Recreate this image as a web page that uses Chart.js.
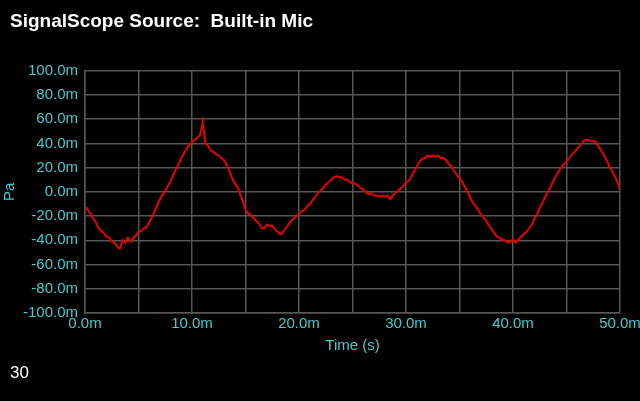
<!DOCTYPE html>
<html>
<head>
<meta charset="utf-8">
<script src="https://cdn.jsdelivr.net/npm/chart.js@4/dist/chart.umd.min.js"></script>
<style>
  html, body { margin: 0; padding: 0; background: #000; }
  #wrap { position: relative; width: 640px; height: 401px; }
  #pageNum { position: absolute; left: 10px; top: 363px; color: #fff; font: 17px "Liberation Sans", Arial, sans-serif; }
</style>
</head>
<body>
<div id="wrap">
  <canvas id="scopeChart" width="640" height="401"></canvas>
  <div id="pageNum">30</div>
</div>
<script>
// time in ms, one sample every 0.25 ms
const timeMs = [];
for (let i = 0; i <= 200; i++) timeMs.push(i * 0.25);

// pressure in mPa
const pressure = [
  -12, -15, -18, -22, -25, -30, -32, -34, -37, -38,
  -41, -42, -45, -47, -40, -42, -38, -41, -38, -36,
  -33, -32, -30, -29, -25, -21, -16, -11, -6, -2,
  1, 5, 9, 14, 19, 23, 28, 32, 36, 39,
  41, 43, 45, 47, 58, 40, 38, 34, 33, 31,
  30, 28, 26, 22, 17, 11, 7, 4, -2, -8,
  -15, -18, -19, -22, -24, -26, -30, -30, -27, -28,
  -28, -31, -33, -35, -33, -30, -27, -24, -22, -20,
  -18, -16, -15, -12, -10, -7, -4, -1, 1, 3,
  6, 8, 10, 12, 13, 12, 12, 10, 10, 8,
  7, 7, 5, 3, 2, 0, -2, -1, -3, -3,
  -4, -3, -4, -3, -6, -3, -1, 1, 3, 5,
  8, 9, 13, 17, 21, 25, 27, 28, 30, 29,
  30, 29, 30, 28, 28, 26, 23, 21, 17, 14,
  11, 8, 4, 0, -5, -9, -12, -15, -19, -21,
  -24, -28, -31, -34, -37, -38, -40, -40, -42, -41,
  -39, -42, -39, -37, -35, -33, -30, -27, -22, -18,
  -13, -9, -4, 0, 4, 9, 13, 17, 20, 23,
  25, 28, 31, 33, 36, 38, 41, 43, 43, 42,
  42, 41, 37, 34, 30, 26, 21, 17, 13, 8,
  2
];

const cyan = "#44cccc";
const gridGray = "#575757";
const tickFont = { family: "Liberation Sans", size: 15 };

const points = timeMs.map((t, i) => ({ x: t, y: pressure[i] }));

new Chart(document.getElementById("scopeChart"), {
  type: "line",
  data: {
    datasets: [
      {
        data: points,
        borderColor: "#e60000",
        borderWidth: 2,
        pointRadius: 0,
        tension: 0,
      },
    ],
  },
  options: {
    responsive: false,
    animation: false,
    layout: { padding: { left: 10, right: 0, top: 0, bottom: 46 } },
    scales: {
      x: {
        type: "linear",
        min: 0,
        max: 50,
        afterFit: (scale) => {
          scale.height = 42;
          scale.paddingRight = 20;
        },
        grid: { color: gridGray, lineWidth: 1.5, drawTicks: false },
        border: { color: gridGray, width: 1.5 },
        ticks: {
          stepSize: 5,
          color: cyan,
          font: tickFont,
          padding: 2,
          maxRotation: 0,
          callback: (v) => (v % 10 === 0 ? v.toFixed(1) + "m" : ""),
        },
        title: { display: true, text: "Time (s)", color: cyan, font: tickFont, padding: { top: 4, bottom: 0 } },
      },
      y: {
        min: -100,
        max: 100,
        afterFit: (scale) => { scale.width = 75; },
        grid: { color: gridGray, lineWidth: 1.5, drawTicks: false },
        border: { color: gridGray, width: 1.5 },
        ticks: {
          stepSize: 20,
          color: cyan,
          font: tickFont,
          padding: 7,
          callback: (v) => v.toFixed(1) + "m",
        },
        title: { display: true, text: "Pa", color: cyan, font: tickFont, padding: { top: -9, bottom: 0 } },
      },
    },
    plugins: {
      legend: { display: false },
      tooltip: { enabled: false },
      title: {
        display: true,
        text: "SignalScope Source:  Built-in Mic",
        align: "start",
        color: "#fff",
        font: { family: "Liberation Sans", size: 19, weight: "bold" },
        padding: { top: 10, bottom: 38 },
      },
    },
  },
});
</script>
</body>
</html>
